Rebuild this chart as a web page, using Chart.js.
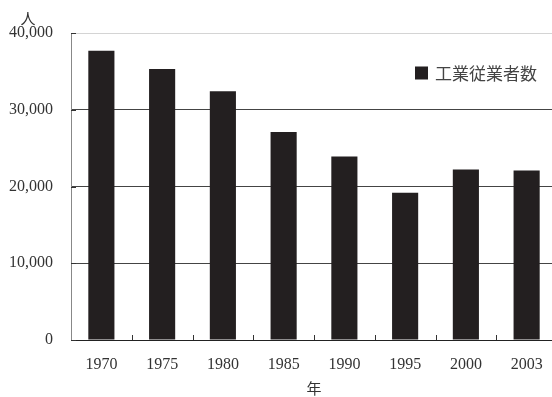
<!DOCTYPE html>
<html>
<head>
<meta charset="utf-8">
<script src="https://cdn.jsdelivr.net/npm/chart.js@4/dist/chart.umd.min.js"></script>
<style>
html, body { margin: 0; padding: 0; overflow: hidden; background: #fff; }
</style>
</head>
<body>
<canvas id="canvas" width="560" height="397"></canvas>
<script>
// data
var years = ['1970', '1975', '1980', '1985', '1990', '1995', '2000', '2003'];
var workers = [37700, 35300, 32400, 27100, 23900, 19200, 22200, 22100];
var yTicks = [0, 10000, 20000, 30000, 40000];
var seriesName = '工業従業者数';
var yUnit = '人';
var xTitle = '年';

var serif = "'Liberation Serif', 'Times New Roman', serif";
var jp = "'Noto Sans CJK JP', sans-serif";
var barColor = '#231f20';

// ticks drawn inside the plot, unit label and the legend box
var extras = {
	id: 'extras',
	afterDraw: function (chart) {
		var ctx = chart.ctx;
		var area = chart.chartArea;
		var y = chart.scales.y;
		ctx.save();
		ctx.strokeStyle = '#333';
		ctx.lineWidth = 1;
		// y ticks, pointing right
		yTicks.forEach(function (v) {
			var py = Math.round(y.getPixelForValue(v)) + 0.5;
			ctx.beginPath();
			ctx.moveTo(area.left, py);
			ctx.lineTo(area.left + 5, py);
			ctx.stroke();
		});
		// x ticks between categories, pointing up
		var step = (area.right - area.left) / years.length;
		for (var i = 1; i < years.length; i++) {
			var px = Math.round(area.left + i * step) + 0.5;
			ctx.beginPath();
			ctx.moveTo(px, area.bottom);
			ctx.lineTo(px, area.bottom - 5);
			ctx.stroke();
		}
		// unit
		ctx.fillStyle = '#333';
		ctx.font = '15px ' + jp;
		ctx.textAlign = 'center';
		ctx.textBaseline = 'middle';
		ctx.fillText(yUnit, area.left - 43, 18);
		// legend
		var lx = area.left + 344;
		var ly = area.top + 40;
		ctx.fillStyle = barColor;
		ctx.fillRect(lx, ly - 6.5, 13, 13);
		ctx.fillStyle = '#444';
		ctx.font = '17px ' + jp;
		ctx.textAlign = 'left';
		ctx.fillText(chart.data.datasets[0].label, lx + 20, ly + 1);
		ctx.restore();
	}
};

var config = {
	type: 'bar',
	data: {
		labels: years,
		datasets: [{
			label: seriesName,
			data: workers,
			backgroundColor: barColor,
			borderWidth: 0,
			barPercentage: 0.43,
			categoryPercentage: 1
		}]
	},
	options: {
		responsive: false,
		animation: false,
		layout: {
			padding: { top: 33, right: 3, left: 0, bottom: 0 }
		},
		plugins: {
			legend: { display: false },
			tooltip: { enabled: false }
		},
		scales: {
			x: {
				type: 'category',
				offset: true,
				grid: { display: false },
				border: { display: true, color: '#222', width: 1 },
				ticks: {
					color: '#333',
					font: { family: serif, size: 16 },
					padding: 7,
					maxRotation: 0
				},
				title: {
					display: true,
					text: xTitle,
					color: '#333',
					font: { family: jp, size: 15 },
					padding: { top: 6, bottom: 0 }
				},
				afterFit: function (s) { s.height = 57; }
			},
			y: {
				min: 0,
				max: 40000,
				grid: {
					drawTicks: false,
					color: function (c) {
						return c.tick && c.tick.value === 40000 ? '#d4d4d4' : '#444';
					},
					lineWidth: 1
				},
				border: { display: true, color: '#888', width: 1 },
				ticks: {
					stepSize: 10000,
					color: '#333',
					padding: 18,
					font: { family: serif, size: 16 },
					callback: function (v) { return v.toLocaleString('en-US'); }
				},
				afterFit: function (s) { s.width = 71; }
			}
		}
	},
	plugins: [extras]
};

window.onload = function () {
	window.myBar = new Chart(document.getElementById('canvas'), config);
};
</script>
</body>
</html>
